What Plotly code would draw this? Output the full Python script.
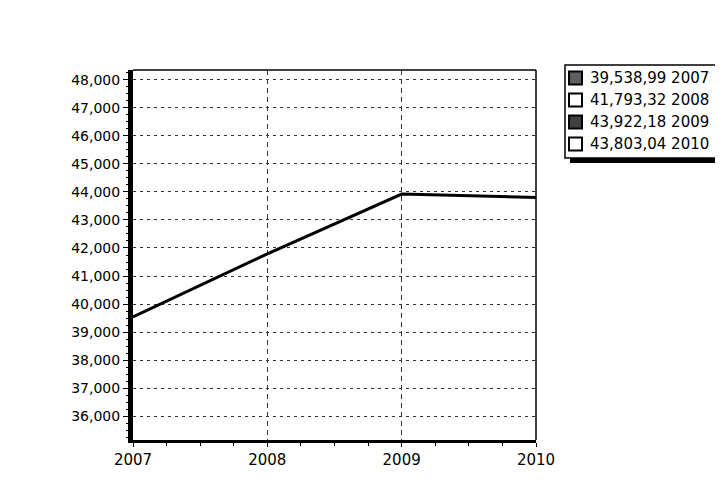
import plotly.graph_objects as go

# ---- data ----
years = [2007, 2008, 2009, 2010]
values = [39538.99, 41793.32, 43922.18, 43803.04]
x_tick_labels = ["2007", "2008", "2009", "2010"]
y_ticks = [36000, 37000, 38000, 39000, 40000, 41000, 42000,
           43000, 44000, 45000, 46000, 47000, 48000]
legend_labels = ["39,538,99 2007", "41,793,32 2008",
                 "43,922,18 2009", "43,803,04 2010"]
legend_fills = ["#5e5e5e", "#ffffff", "#404040", "#ffffff"]

# ---- geometry (pixels) ----
W, H = 723, 480
L, R, T, B = 125, 195, 62, 48
PW, PH = W - L - R, H - T - B


def px(x):
    return (x - L) / PW


def py(y):
    return (H - B - y) / PH


FONT = "DejaVu Sans"

fig = go.Figure()
fig.add_trace(go.Scatter(
    x=years, y=values, mode="lines",
    line=dict(color="black", width=3),
    showlegend=False, hoverinfo="skip",
))

shapes = [
    # top and right frame lines
    dict(type="line", xref="paper", yref="paper", x0=0, x1=1, y0=1, y1=1,
         line=dict(color="black", width=1.5)),
    dict(type="line", xref="paper", yref="paper", x0=1, x1=1, y0=0, y1=1,
         line=dict(color="black", width=1.5)),
    # legend shadow and box
    dict(type="rect", xref="paper", yref="paper",
         x0=px(562), x1=px(716), y0=py(155), y1=py(62),
         fillcolor="black", line=dict(width=0)),
    dict(type="rect", xref="paper", yref="paper",
         x0=px(557), x1=px(711), y0=py(150), y1=py(57),
         fillcolor="white", line=dict(color="black", width=1.5)),
]
annotations = []
row_y = [70, 92, 114, 136]
for lab, fill, yc in zip(legend_labels, legend_fills, row_y):
    shapes.append(dict(type="rect", xref="paper", yref="paper",
                       x0=px(561), x1=px(574), y0=py(yc + 6.5), y1=py(yc - 6.5),
                       fillcolor=fill, line=dict(color="black", width=2)))
    annotations.append(dict(xref="paper", yref="paper", x=px(580), y=py(yc),
                            xanchor="left", yanchor="middle", text=lab,
                            showarrow=False,
                            font=dict(family=FONT, size=15, color="black")))

fig.update_layout(
    width=W, height=H,
    margin=dict(l=L, r=R, t=T, b=B, pad=0, autoexpand=False),
    paper_bgcolor="white", plot_bgcolor="white",
    font=dict(family=FONT, size=14, color="black"),
    showlegend=False,
    shapes=shapes,
    annotations=annotations,
    xaxis=dict(
        range=[2007, 2010], tickvals=years, ticktext=x_tick_labels,
        ticks="outside", ticklen=4, tickcolor="black", tickwidth=1,
        showline=True, linecolor="black", linewidth=3,
        showgrid=True, gridcolor="#333333", gridwidth=1, griddash="5px,4px",
        zeroline=False, tickfont=dict(size=15),
        minor=dict(ticks="outside", ticklen=3, tickcolor="black",
                   tick0=2007, dtick=0.25, showgrid=False),
    ),
    yaxis=dict(
        range=[35150, 48350], tickvals=y_ticks, tickformat=",",
        ticks="outside", ticklen=5, tickcolor="black", tickwidth=1,
        showline=True, linecolor="black", linewidth=5,
        showgrid=True, gridcolor="#333333", gridwidth=1, griddash="3px,4px",
        zeroline=False, tickfont=dict(size=14),
        minor=dict(ticks="outside", ticklen=2, tickcolor="black",
                   dtick=250, showgrid=False),
    ),
)

fig.write_html("out.html")
